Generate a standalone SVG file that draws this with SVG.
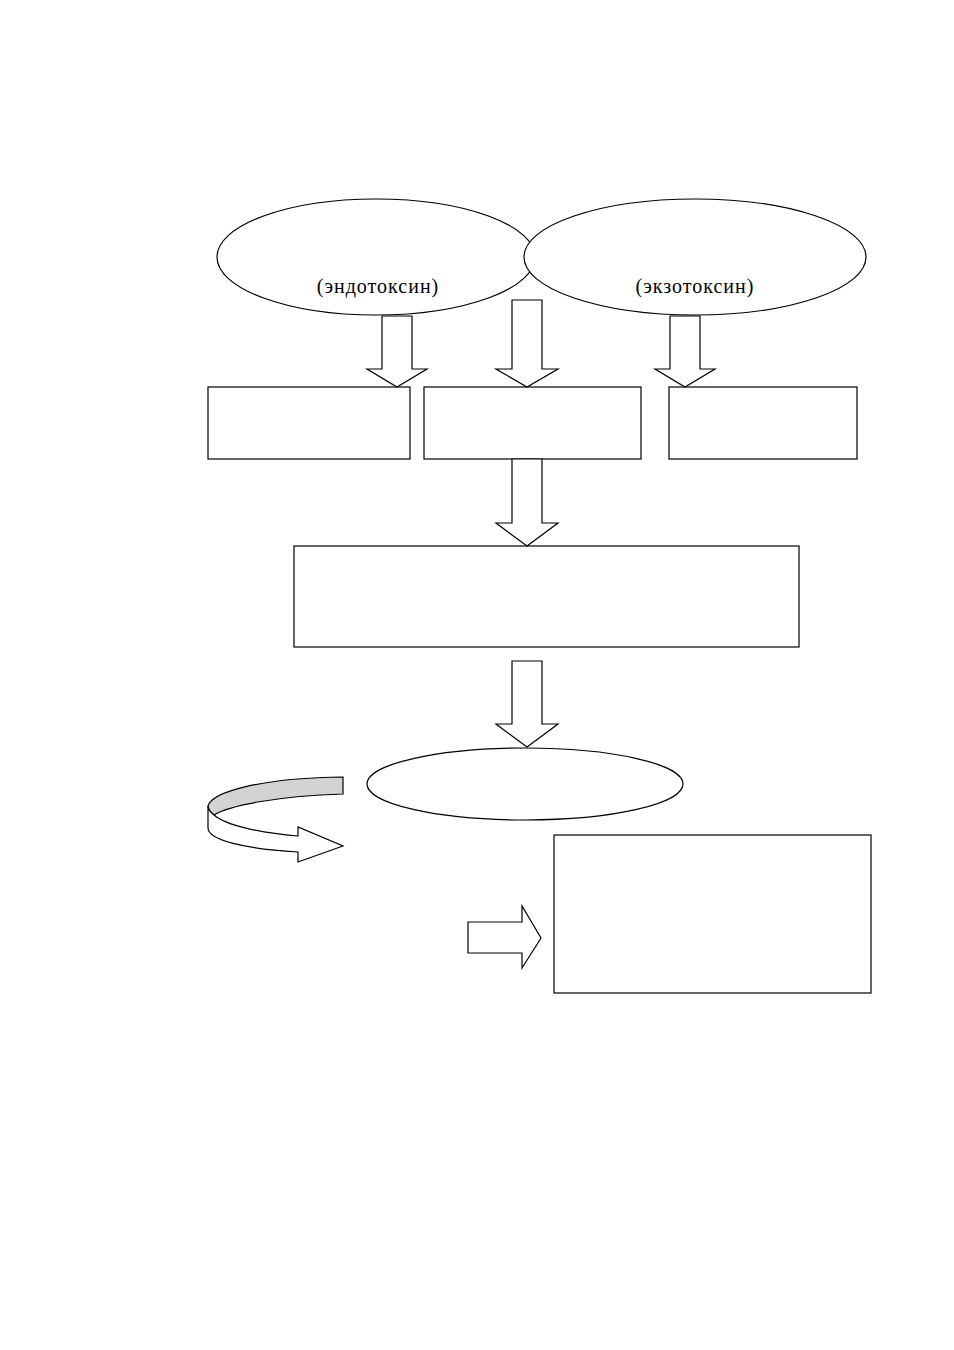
<svg xmlns="http://www.w3.org/2000/svg" width="954" height="1350" viewBox="0 0 954 1350">
<style>
.s{fill:#fff;stroke:#000;stroke-width:1.2}
.g{fill:#d3d3d3;stroke:#000;stroke-width:1.2}
.t{font-family:"Liberation Serif","Times New Roman",serif;font-size:20px;letter-spacing:1px;fill:#000;text-anchor:middle}
</style>
<rect width="954" height="1350" fill="#fff"/>
<g id="endotoxin">
<ellipse class="s" cx="376" cy="257" rx="159" ry="58"/>
<text class="t" x="378" y="293">(эндотоксин)</text>
</g>
<g id="exotoxin">
<ellipse class="s" cx="695" cy="257" rx="171" ry="58"/>
<text class="t" x="695" y="293">(экзотоксин)</text>
</g>
<g id="box1"><rect class="s" x="208" y="387" width="202" height="72"/></g>
<g id="box2"><rect class="s" x="424" y="387" width="217" height="72"/></g>
<g id="box3"><rect class="s" x="669" y="387" width="188" height="72"/></g>
<g id="box4"><rect class="s" x="294" y="546" width="505" height="101"/></g>
<g id="ellipse3"><ellipse class="s" cx="525" cy="784" rx="158" ry="36"/></g>
<g id="box5"><rect class="s" x="554" y="835" width="317" height="158"/></g>
<g id="connectors">
<path class="s" d="M382,316 L412,316 L412,369 L427,369 L397,387 L367,369 L382,369 Z"/>
<path class="s" d="M512,300 L542,300 L542,369 L558,369 L527,387 L496,369 L512,369 Z"/>
<path class="s" d="M670,316 L700,316 L700,369 L715,369 L685,387 L655,369 L670,369 Z"/>
<path class="s" d="M512,459 L542,459 L542,523 L558,523 L527,546 L496,523 L512,523 Z"/>
<path class="s" d="M512,661 L542,661 L542,724 L558,724 L527,747 L496,724 L512,724 Z"/>
<path class="s" d="M468,922 L522,922 L522,906 L541,938 L522,968 L522,953 L468,953 Z"/>
<path class="g" d="M343,777 L343,794 C280,796 230,805 214,815 C210,812 208,809 208,806 C212,792 260,778 343,777 Z"/>
<path class="s" d="M208,806 C208,809 210,812 214,815 C225,825 260,833 298,836 L298,827 L343,846 L298,862 L298,852 C245,849 208,840 208,828 Z"/>
</g>
</svg>
